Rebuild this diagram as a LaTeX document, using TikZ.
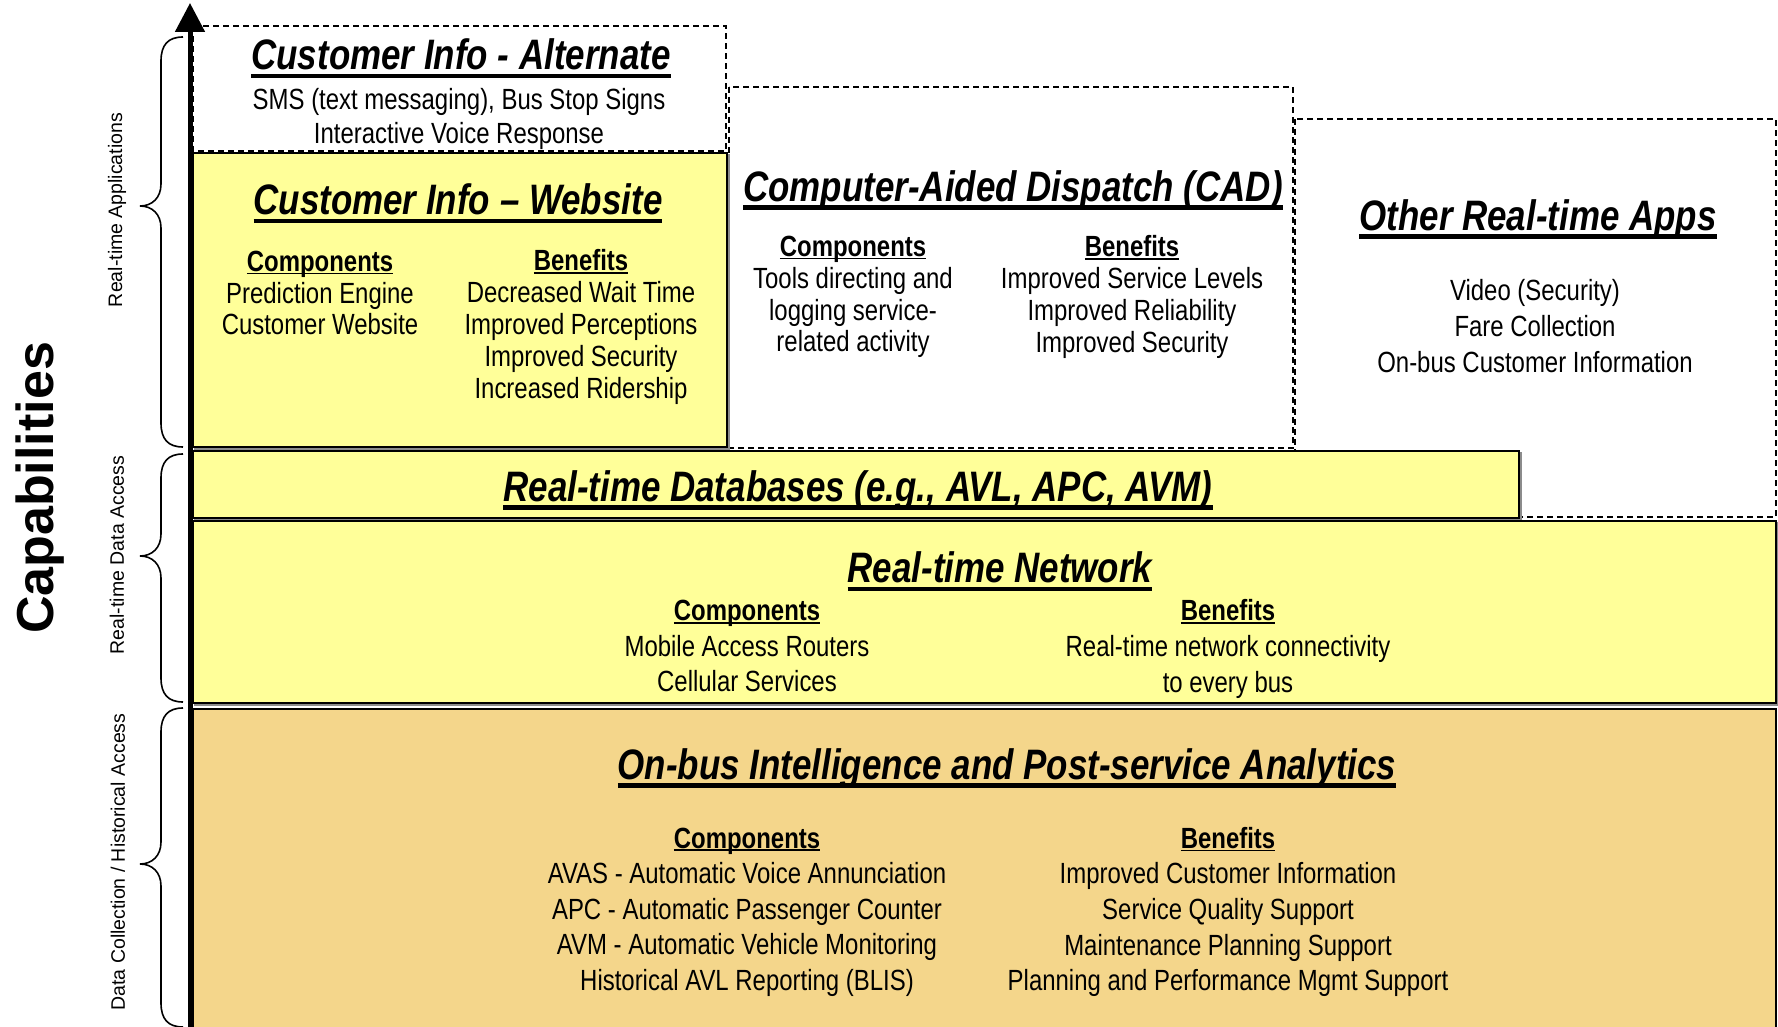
\documentclass[tikz,border=0pt]{standalone}
\usepackage{fontspec}
\setmainfont{Liberation Sans}[FakeStretch=0.82]
\newfontfamily\widefont{Liberation Sans}
\usetikzlibrary{arrows.meta}
\definecolor{panelYellow}{HTML}{FFFF99}
\definecolor{panelTan}{HTML}{F4D68B}
\newcommand\ttl[1]{{\fontsize{21.3}{24}\selectfont\bfseries\itshape\setbox0\hbox{#1}\rlap{\rule[-0.2em]{\wd0}{0.095em}}\box0}}
\newcommand\hd[1]{{\bfseries\setbox0\hbox{#1}\rlap{\rule[-0.1em]{\wd0}{0.06em}}\box0}}
\newcommand\curlybrace[3]{%
  \draw[bracestyle] (183,#1) .. controls (168,#1) and (161,#1+8) .. (161,#1+24)
    -- (161,#2-22) .. controls (161,#2-8) and (152,#2) .. (140,#2)
    .. controls (152,#2) and (161,#2+8) .. (161,#2+22)
    -- (161,#3-24) .. controls (161,#3-8) and (168,#3) .. (183,#3);}
\begin{document}
\begin{tikzpicture}[x=0.5pt,y=-0.5pt,
  body/.style={font=\fontsize{14.6}{15.9}\selectfont, align=center, inner sep=0pt, text depth=0pt},
  bodyalt/.style={font=\fontsize{14.6}{17}\selectfont, align=center, inner sep=0pt, text depth=0pt},
  bodyloose/.style={font=\fontsize{14.6}{17.8}\selectfont, align=center, inner sep=0pt, text depth=0pt},
  ttlnode/.style={inner sep=0pt},
  yelbox/.style={draw=black, line width=1pt, fill=panelYellow},
  tanbox/.style={draw=black, line width=1pt, fill=panelTan},
  shadowbox/.style={draw=black!45, line width=1pt},
  dashbox/.style={draw=black, line width=0.75pt, dash pattern=on 3pt off 2pt},
  vlabel/.style={rotate=90, font=\widefont\fontsize{9.75}{11}\selectfont, inner sep=0pt},
  bracestyle/.style={draw=black, line width=0.8pt},
  axis/.style={line width=2.5pt, -{Triangle[length=14.5pt,width=14.5pt]}}
]
\useasboundingbox (0,0) rectangle (1778,1027);

% dashed application boxes
\path[dashbox] (193,26) rectangle (726,151);
\path[dashbox] (729,87) rectangle (1293,448);
\path[dashbox] (1295,119) rectangle (1776,517);

% solid panels (with light shadow lines)
\path[shadowbox] (195,155) rectangle (729,449);
\path[yelbox] (193,153) rectangle (727,447);
\path[shadowbox] (195,453) rectangle (1521,520);
\path[yelbox] (193,451) rectangle (1519,518);
\path[shadowbox] (195,523) rectangle (1778,705);
\path[yelbox] (193,521) rectangle (1776,703);
\path[tanbox] (193,709) rectangle (1776,1030);

% axis
\coordinate (axisbot) at (190,1027);
\coordinate (axistop) at (190,3);
\draw[axis] (axisbot) -- (axistop);

% braces
\curlybrace{37}{206}{447}
\curlybrace{454}{556}{702}
\curlybrace{708}{864}{1027}

% side labels
\node[rotate=90, font=\widefont\fontsize{26}{28}\selectfont\bfseries, inner sep=0pt] (cap) at (40,488) {Capabilities};
\node[vlabel] (lapp) at (117,210) {Real-time Applications};
\node[vlabel] (ldata) at (117,555) {Real-time Data Access};
\node[vlabel] (lhist) at (118,862) {Data Collection / Historical Access};

% Customer Info - Alternate
\node[ttlnode] (altT) at (461,58) {\ttl{Customer Info - Alternate}};
\node[bodyalt] (altB) at (459,116) {SMS (text messaging), Bus Stop Signs\\Interactive Voice Response};

% Customer Info - Website
\node[ttlnode] (webT) at (458,203) {\ttl{Customer Info – Website}};
\node[body] (webC) at (320,293) {\hd{Components}\\Prediction Engine\\Customer Website};
\node[body] (webB) at (581,324) {\hd{Benefits}\\Decreased Wait Time\\Improved Perceptions\\Improved Security\\Increased Ridership};

% CAD
\node[ttlnode] (cadT) at (1013,190) {\ttl{Computer-Aided Dispatch (CAD)}};
\node[body] (cadC) at (853,294) {\hd{Components}\\Tools directing and\\logging service-\\related activity};
\node[body] (cadB) at (1132,294) {\hd{Benefits}\\Improved Service Levels\\Improved Reliability\\Improved Security};

% Other apps
\node[ttlnode] (othT) at (1538,219) {\ttl{Other Real-time Apps}};
\node[bodyloose] (othB) at (1535,326) {Video (Security)\\Fare Collection\\On-bus Customer Information};

% Databases
\node[ttlnode] (dbT) at (858,490) {\ttl{Real-time Databases (e.g., AVL, APC, AVM)}};

% Network
\node[ttlnode] (netT) at (1000,571) {\ttl{Real-time Network}};
\node[bodyloose] (netC) at (747,646) {\hd{Components}\\Mobile Access Routers\\Cellular Services};
\node[bodyloose] (netB) at (1228,646) {\hd{Benefits}\\Real-time network connectivity\\to every bus};

% On-bus
\node[ttlnode] (busT) at (1007,768) {\ttl{On-bus Intelligence and Post-service Analytics}};
\node[bodyloose] (busC) at (747,909) {\hd{Components}\\AVAS - Automatic Voice Annunciation\\APC - Automatic Passenger Counter\\AVM - Automatic Vehicle Monitoring\\Historical AVL Reporting (BLIS)};
\node[bodyloose] (busB) at (1228,909) {\hd{Benefits}\\Improved Customer Information\\Service Quality Support\\Maintenance Planning Support\\Planning and Performance Mgmt Support};
\end{tikzpicture}
\end{document}
